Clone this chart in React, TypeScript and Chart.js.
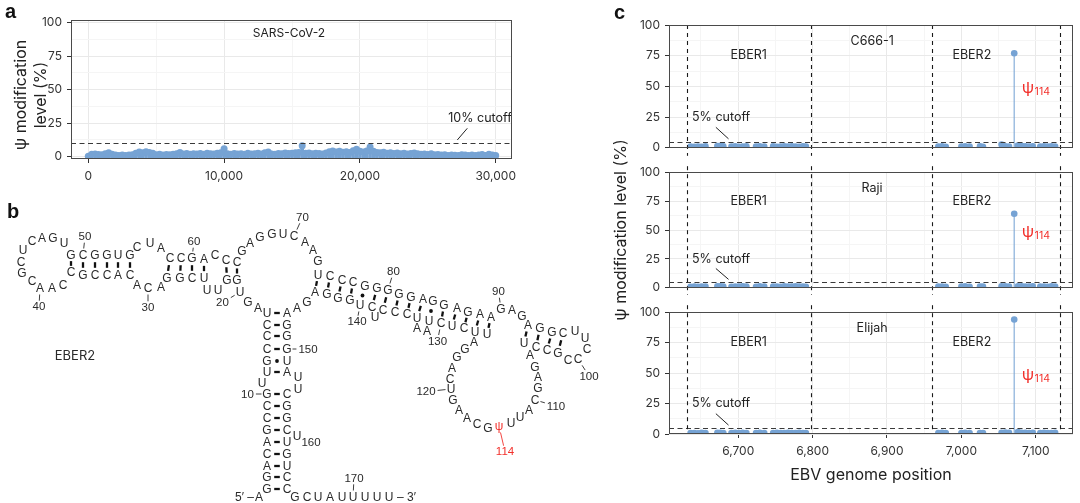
import React, { useEffect, useRef } from "react";
import { Chart, registerables } from "chart.js";
import type { ChartConfiguration, Plugin } from "chart.js";

Chart.register(...registerables);

const FONT = "Inter, 'Liberation Sans', 'DejaVu Sans', sans-serif";
const RNA_FONT = "'Liberation Sans', Arial, 'DejaVu Sans', sans-serif";
const BLUE = "#76A3D4";
const STEM = "rgba(118,163,212,0.75)";
const RED = "#F2302B";
const INK = "#333333";
const GRID = "#E9E9E9";
const GRID_MINOR = "#F5F5F5";

// ---- panel a: SARS-CoV-2 ----
const sarsPositions = [
  0, 250, 500, 750, 1000, 1250, 1500, 1750, 2000, 2250, 2500, 2750, 3000, 3250, 3500, 3750, 4000,
  4250, 4500, 4750, 5000, 5250, 5500, 5750, 6000, 6250, 6500, 6750, 7000, 7250, 7500, 7750, 8000,
  8250, 8500, 8750, 9000, 9250, 9500, 9750, 10000, 10250, 10500, 10750, 11000, 11250, 11500, 11750,
  12000, 12250, 12500, 12750, 13000, 13250, 13500, 13750, 14000, 14250, 14500, 14750, 15000, 15250,
  15500, 15750, 16000, 16250, 16500, 16750, 17000, 17250, 17500, 17750, 18000, 18250, 18500, 18750,
  19000, 19250, 19500, 19750, 20000, 20250, 20500, 20750, 21000, 21250, 21500, 21750, 22000, 22250,
  22500, 22750, 23000, 23250, 23500, 23750, 24000, 24250, 24500, 24750, 25000, 25250, 25500, 25750,
  26000, 26250, 26500, 26750, 27000, 27250, 27500, 27750, 28000, 28250, 28500, 28750, 29000, 29250,
  29500, 29750, 30000,
];
const sarsLevels = [
  0.4, 1.8, 2.0, 1.6, 1.5, 2.2, 3.0, 1.8, 1.2, 1.0, 1.3, 1.0, 1.2, 1.5, 2.5, 3.5, 3.0,
  3.8, 3.2, 2.5, 1.5, 1.8, 1.2, 1.6, 1.4, 1.8, 2.2, 3.2, 2.0, 2.4, 1.8, 2.2, 2.0,
  2.4, 1.8, 2.5, 2.2, 2.0, 2.6, 3.0, 6.0, 2.2, 1.8, 2.4, 2.0, 2.2, 1.8, 2.5,
  2.0, 2.2, 2.6, 2.0, 3.0, 3.6, 2.0, 1.8, 2.4, 2.2, 2.8, 2.4, 2.6, 3.0,
  3.2, 8.2, 2.6, 2.8, 2.2, 2.6, 2.4, 2.0, 2.8, 3.8, 4.2, 3.5, 4.0, 3.4,
  3.8, 3.2, 4.5, 5.6, 4.0, 3.5, 4.2, 7.2, 4.0, 3.2, 3.0, 3.4, 2.6, 3.0,
  2.4, 2.8, 2.2, 2.6, 2.0, 2.4, 2.8, 2.2, 1.8, 2.0, 1.6, 2.2, 1.4, 1.6,
  1.2, 1.5, 1.0, 1.3, 1.1, 1.0, 1.4, 1.2, 0.9, 1.2, 1.0, 1.3, 1.6, 1.0,
  1.8, 1.2, 1.0,
];
const sarsXTicks = [0, 5000, 10000, 15000, 20000, 25000, 30000];
const sarsXLabels = [0, 10000, 20000, 30000];
const sarsCutoff = 10;

// shared level axis
const levelTicks = [0, 12.5, 25, 37.5, 50, 62.5, 75, 87.5, 100];
const levelLabels = [0, 25, 50, 75, 100];

// ---- panel c: EBV EBERs ----
const cellLines = ["C666-1", "Raji", "Elijah"];
const eberXTicks = [6650, 6700, 6750, 6800, 6850, 6900, 6950, 7000, 7050, 7100];
const eberXLabels = [6700, 6800, 6900, 7000, 7100];
const eberBounds = [6631, 6798, 6961, 7132];
const eberCutoff = 5;
const eberPositions = [
  6636, 6641, 6646, 6651, 6656, 6672, 6676, 6680, 6691, 6696, 6701, 6706, 6711, 6724, 6729, 6735,
  6747, 6752, 6757, 6762, 6767, 6772, 6777, 6782, 6787, 6791,
  6969, 6974, 6979, 7000, 7005, 7011, 7025, 7029, 7054, 7059, 7064, 7071, 7076, 7081, 7086, 7091,
  7096, 7106, 7111, 7116, 7121, 7126,
];
const c666Levels = [
  1.0, 0.8, 1.1, 0.9, 1.2, 1.4, 1.6, 1.2, 1.0, 1.2, 0.9, 1.1, 1.3, 1.0, 1.3, 1.1,
  1.2, 0.9, 1.1, 1.3, 1.0, 1.2, 1.1, 0.9, 1.3, 1.0,
  1.0, 1.2, 0.8, 1.1, 1.3, 1.0, 1.2, 0.9, 2.6, 1.2, 1.0, 77, 1.8, 1.5, 1.2, 1.0,
  1.3, 1.1, 1.2, 1.0, 1.3, 1.1,
];
const rajiLevels = [
  0.9, 1.0, 0.8, 1.1, 1.0, 1.2, 1.3, 1.0, 0.9, 1.1, 1.0, 1.2, 1.0, 0.9, 1.2, 1.0,
  1.1, 1.0, 0.9, 1.2, 1.1, 1.0, 1.2, 1.0, 1.1, 0.9,
  1.0, 1.1, 0.9, 1.0, 1.2, 0.9, 1.1, 1.0, 1.4, 1.2, 1.0, 64, 1.3, 1.2, 1.0, 1.1,
  1.2, 1.0, 1.1, 0.9, 1.2, 1.0,
];
const elijahLevels = [
  0.7, 0.8, 0.6, 0.9, 0.7, 0.9, 1.0, 0.8, 0.7, 0.9, 0.8, 0.9, 0.7, 0.8, 0.9, 0.7,
  0.8, 0.9, 0.7, 0.8, 0.9, 0.7, 0.8, 0.9, 0.8, 0.7,
  0.8, 0.9, 0.7, 0.8, 0.9, 0.7, 0.8, 0.7, 1.0, 1.2, 0.9, 94, 1.6, 1.0, 0.9, 0.8,
  0.9, 0.8, 0.9, 0.7, 0.8, 0.9,
];
const cellLevels = [c666Levels, rajiLevels, elijahLevels];

// ---- panel b: EBER2 secondary structure (layout coordinates in figure pixels) ----
const rnaSeq = Array.from(
  "AGGACAGCCG" + "UUGCCCUAGU" + "GGUUUCGGAC" + "ACACCGCCAA" + "CGCUCAGUGC" +
  "GGUGCUACCG" + "ACCCGAGGUC" + "AAGUCCCGGG" + "GGAGGAGAAG" + "AGAGGCUUCC" +
  "CGCCUAGAGC" + "AUUψGCAAGU" + "CAGGAUUCUC" + "UAAUCCCUCU" + "GGGAGAAGGG" +
  "UAUUCGGCUU" + "GUCCGCUAUU" + "UUU"
);
const rnaX = [
  259, 267, 267, 267, 267, 267, 267, 267, 267, 267,
  262, 267, 267, 267, 267, 267, 267, 258, 248, 240,
  237, 227, 218, 207, 204, 192, 180, 167, 161, 148,
  137, 130, 118, 107, 95, 83, 71, 63, 52, 40,
  32, 22, 21, 23, 32, 42, 53, 64, 71, 83,
  95, 107, 118, 130, 137, 150, 161, 170, 181, 192,
  204, 215, 226, 237, 242, 250, 260, 272, 283, 294,
  305, 313, 318, 318, 330, 342, 353, 365, 377, 388,
  399, 411, 423, 433, 444, 457, 468, 480, 491, 501,
  512, 522, 528, 540, 552, 563, 575, 585, 587, 578,
  568, 558, 547, 536, 524, 530, 535, 538, 538, 535,
  529, 520, 511, 499, 488, 477, 467, 459, 453, 451,
  450, 452, 457, 465, 474, 487, 475, 464, 452, 441,
  429, 427, 417, 417, 407, 395, 383, 375, 372, 360,
  350, 338, 327, 315, 307, 297, 287, 287, 287, 287,
  287, 287, 298, 298, 287, 287, 287, 287, 287, 297,
  287, 287, 287, 287, 295, 307, 318, 330, 342, 353,
  365, 377, 389,
];
const rnaY = [
  497, 489, 477, 466, 454, 442, 430, 418, 406, 394,
  383, 372, 361, 349, 336, 325, 313, 308, 302, 292,
  280, 280, 290, 290, 278, 278, 278, 278, 287, 288,
  285, 275, 275, 275, 275, 275, 272, 285, 288, 288,
  281, 273, 262, 250, 241, 238, 238, 243, 255, 255,
  255, 255, 255, 255, 247, 243, 248, 258, 258, 258,
  259, 255, 260, 262, 251, 243, 237, 234, 234, 236,
  242, 250, 261, 275, 276, 280, 282, 286, 288, 290,
  294, 297, 299, 301, 305, 308, 312, 314, 317, 309,
  310, 316, 325, 328, 332, 333, 331, 338, 349, 359,
  360, 353, 350, 347, 343, 355, 367, 377, 388, 400,
  410, 417, 423, 426, 428, 424, 418, 410, 400, 389,
  379, 368, 357, 349, 342, 334, 332, 328, 326, 323,
  321, 331, 328, 318, 314, 312, 310, 317, 307, 305,
  300, 298, 294, 292, 302, 308, 313, 325, 336, 349,
  361, 372, 377, 389, 394, 406, 418, 430, 442, 436,
  454, 466, 477, 489, 497, 497, 497, 497, 497, 497,
  497, 497, 497,
];
const pairFrom = [2, 3, 4, 5, 6, 7, 8, 9, 10, 12, 13, 14, 15, 16, 17,
  21, 22, 25, 26, 27, 28, 32, 33, 34, 35, 36, 37,
  74, 75, 76, 77, 78, 79, 80, 81, 82, 83, 84, 85, 86, 87, 88, 89,
  93, 94, 95, 96];
const pairTo = [164, 163, 162, 161, 159, 158, 157, 156, 155, 152, 151, 150, 149, 148, 147,
  64, 63, 61, 60, 59, 58, 54, 53, 52, 51, 50, 49,
  144, 143, 142, 141, 140, 139, 137, 136, 135, 134, 131, 130, 129, 128, 127, 126,
  105, 104, 103, 102];
const wobbleFrom = [13, 78, 84];
const labelNums = [10, 20, 30, 40, 50, 60, 70, 80, 90, 100, 110, 114, 120, 130, 140, 150, 160, 170];
const labelX = [247.5, 222.5, 148, 39, 85, 194, 302.5, 393.5, 498.5, 589, 556, 505, 426, 437.5, 357, 308, 311, 354];
const labelY = [394, 302.7, 307.3, 306.7, 236.7, 241.7, 217.3, 271.7, 291.7, 376, 406, 451.7, 391.7, 341, 321.7, 349, 442, 478.3];

// ---------- plugins ----------
type NoteText = { x: number; y: number; text: string; size?: number; color?: string; align?: CanvasTextAlign; sub?: string };
type Notes = {
  texts: NoteText[];
  hlines?: number[];
  vlines?: number[];
  segs?: number[][];
  vTop?: number;
  vBottom?: number;
};

const notesPlugin = (notes: Notes): Plugin => ({
  id: "notes",
  afterDatasetsDraw(chart) {
    const { ctx, chartArea: a, scales } = chart;
    const xs = scales.x;
    const ys = scales.y;
    ctx.save();
    ctx.setLineDash([5, 3.5]);
    ctx.strokeStyle = "#3a3a3a";
    ctx.lineWidth = 1;
    (notes.hlines || []).forEach((v) => {
      const y = Math.round(ys.getPixelForValue(v)) + 0.5;
      ctx.beginPath();
      ctx.moveTo(a.left, y);
      ctx.lineTo(a.right, y);
      ctx.stroke();
    });
    ctx.setLineDash([4, 4]);
    ctx.strokeStyle = "#1a1a1a";
    ctx.lineWidth = 1.1;
    (notes.vlines || []).forEach((v) => {
      const x = Math.round(xs.getPixelForValue(v)) + 0.5;
      ctx.beginPath();
      ctx.moveTo(x, a.top - (notes.vTop || 0));
      ctx.lineTo(x, a.bottom + (notes.vBottom || 0));
      ctx.stroke();
    });
    ctx.setLineDash([]);
    ctx.strokeStyle = "#222";
    ctx.lineWidth = 1;
    (notes.segs || []).forEach(([x1, y1, x2, y2]) => {
      ctx.beginPath();
      ctx.moveTo(xs.getPixelForValue(x1), ys.getPixelForValue(y1));
      ctx.lineTo(xs.getPixelForValue(x2), ys.getPixelForValue(y2));
      ctx.stroke();
    });
    ctx.textBaseline = "middle";
    notes.texts.forEach((t) => {
      const x = xs.getPixelForValue(t.x);
      const y = ys.getPixelForValue(t.y);
      ctx.fillStyle = t.color || "#222";
      ctx.textAlign = t.align || "center";
      ctx.font = `${t.size || 12.5}px ${FONT}`;
      ctx.fillText(t.text, x, y);
      if (t.sub) {
        const w = ctx.measureText(t.text).width;
        ctx.textAlign = "left";
        ctx.font = `10.5px ${FONT}`;
        ctx.fillText(t.sub, x + w + 0.5, y + 4);
      }
    });
    ctx.restore();
  },
});

const borderPlugin: Plugin = {
  id: "panelBorder",
  afterDraw(chart) {
    const { ctx, chartArea: a } = chart;
    ctx.save();
    ctx.strokeStyle = "#4a4a4a";
    ctx.lineWidth = 1;
    ctx.strokeRect(Math.round(a.left) + 0.5, Math.round(a.top) + 0.5, Math.round(a.right - a.left) - 1, Math.round(a.bottom - a.top) - 1);
    ctx.restore();
  },
};

// vertical segments from zero up to each point (lollipops)
const stemsPlugin = (color: string, width: number): Plugin => ({
  id: "stems",
  beforeDatasetsDraw(chart) {
    const { ctx, chartArea: a } = chart;
    const y0 = chart.scales.y.getPixelForValue(0);
    ctx.save();
    ctx.beginPath();
    ctx.rect(a.left, a.top, a.right - a.left, a.bottom - a.top);
    ctx.clip();
    ctx.strokeStyle = color;
    ctx.lineWidth = width;
    chart.getDatasetMeta(0).data.forEach((p: any) => {
      ctx.beginPath();
      ctx.moveTo(p.x, Math.max(y0, a.bottom));
      ctx.lineTo(p.x, p.y);
      ctx.stroke();
    });
    ctx.restore();
  },
});

const rnaPlugin: Plugin = {
  id: "rna",
  afterDatasetsDraw(chart) {
    const { ctx, scales } = chart;
    const pts = chart.getDatasetMeta(0).data as any[];
    const sx = (v: number) => scales.x.getPixelForValue(v);
    const sy = (v: number) => scales.y.getPixelForValue(v);
    ctx.save();
    ctx.strokeStyle = "#111";
    ctx.fillStyle = "#111";
    ctx.lineWidth = 2.3;
    pairFrom.forEach((i, k) => {
      const p = pts[i - 1];
      const q = pts[pairTo[k] - 1];
      const dx = q.x - p.x;
      const dy = q.y - p.y;
      if (wobbleFrom.includes(i)) {
        ctx.beginPath();
        ctx.arc(p.x + dx / 2, p.y + dy / 2, 1.9, 0, Math.PI * 2);
        ctx.fill();
        return;
      }
      ctx.beginPath();
      ctx.moveTo(p.x + dx * 0.36, p.y + dy * 0.36);
      ctx.lineTo(p.x + dx * 0.64, p.y + dy * 0.64);
      ctx.stroke();
    });

    ctx.textAlign = "center";
    ctx.textBaseline = "middle";
    ctx.font = `12px ${RNA_FONT}`;
    pts.forEach((p, i) => {
      ctx.fillStyle = rnaSeq[i] === "ψ" ? RED : "#2a2a2a";
      ctx.fillText(rnaSeq[i], p.x, p.y + 0.5);
    });

    ctx.font = `11.5px ${RNA_FONT}`;
    ctx.lineWidth = 0.9;
    labelNums.forEach((n, k) => {
      const lx = sx(labelX[k]);
      const ly = sy(labelY[k]);
      const p = pts[n - 1];
      const color = n === 114 ? RED : "#2a2a2a";
      ctx.fillStyle = color;
      ctx.strokeStyle = color;
      const txt = String(n);
      ctx.fillText(txt, lx, ly + 0.5);
      const dx = p.x - lx;
      const dy = p.y - ly;
      const d = Math.hypot(dx, dy);
      const ux = Math.abs(dx / d) + 1e-6;
      const uy = Math.abs(dy / d) + 1e-6;
      const t0 = Math.min((ctx.measureText(txt).width / 2 + 1.5) / ux, 5.5 / uy) + 0.5;
      const t1 = d - (Math.min(4.5 / ux, 5.5 / uy) + 1);
      if (t1 - t0 > 1.5) {
        ctx.beginPath();
        ctx.moveTo(lx + (dx / d) * t0, ly + (dy / d) * t0);
        ctx.lineTo(lx + (dx / d) * t1, ly + (dy / d) * t1);
        ctx.stroke();
      }
    });

    ctx.fillStyle = "#2a2a2a";
    ctx.font = `12px ${RNA_FONT}`;
    ctx.textAlign = "right";
    ctx.fillText("5′ –", sx(254), sy(497.5));
    ctx.textAlign = "left";
    ctx.fillText("– 3′", sx(397), sy(497.5));
    ctx.font = `13px ${FONT}`;
    ctx.textAlign = "center";
    ctx.fillText("EBER2", sx(75), sy(356));
    ctx.restore();
  },
};

// ---------- axes ----------
const tickFont = { family: FONT, size: 12 };

function levelAxis(width: number, min: number, max: number) {
  return {
    type: "linear",
    min,
    max,
    afterFit: (s: any) => {
      s.width = width;
    },
    afterBuildTicks: (s: any) => {
      s.ticks = levelTicks.map((value) => ({ value }));
    },
    ticks: {
      autoSkip: false,
      padding: 5,
      color: INK,
      font: tickFont,
      callback: (v: any) => (levelLabels.includes(v) ? String(v) : ""),
    },
    grid: {
      color: (c: any) => (levelLabels.includes(c.tick?.value) ? GRID : GRID_MINOR),
      tickColor: (c: any) => (levelLabels.includes(c.tick?.value) ? INK : "rgba(0,0,0,0)"),
      tickLength: 4,
      lineWidth: 1,
    },
    border: { display: false },
  };
}

function positionAxis(min: number, max: number, ticks: number[], labels: number[], height: number, showLabels: boolean) {
  return {
    type: "linear",
    min,
    max,
    afterFit: (s: any) => {
      s.height = height;
    },
    afterBuildTicks: (s: any) => {
      s.ticks = ticks.map((value) => ({ value }));
    },
    ticks: {
      display: showLabels,
      autoSkip: false,
      maxRotation: 0,
      padding: 6,
      color: INK,
      font: tickFont,
      callback: (v: any) => (labels.includes(v) ? Number(v).toLocaleString("en-US") : ""),
    },
    grid: {
      color: (c: any) => (labels.includes(c.tick?.value) ? GRID : GRID_MINOR),
      tickColor: (c: any) => (labels.includes(c.tick?.value) ? INK : "rgba(0,0,0,0)"),
      drawTicks: showLabels,
      tickLength: 4,
      lineWidth: 1,
    },
    border: { display: false },
  };
}

function lollipopData(xs: number[], ys: number[], radius: number) {
  return {
    datasets: [
      {
        data: xs.map((x, i) => ({ x, y: ys[i] })),
        pointRadius: radius,
        pointHoverRadius: radius,
        pointBackgroundColor: BLUE,
        pointBorderWidth: 0,
        showLine: false,
        clip: 0,
      },
    ],
  };
}

const baseOptions = {
  animation: false,
  responsive: true,
  maintainAspectRatio: false,
  events: [],
  plugins: { legend: { display: false }, tooltip: { enabled: false } },
};

// ---------- chart configs ----------
const sarsConfig = (): ChartConfiguration =>
  ({
    type: "scatter",
    data: lollipopData(sarsPositions, sarsLevels, 3.5),
    options: {
      ...baseOptions,
      layout: { padding: { top: 20, right: 18, left: 0, bottom: 0 } },
      scales: {
        x: positionAxis(-1274, 31200, sarsXTicks, sarsXLabels, 31, true),
        y: levelAxis(71, -1.7, 102),
      },
    },
    plugins: [
      stemsPlugin(BLUE, 3.6),
      notesPlugin({
        texts: [
          { x: 14779, y: 92.3, text: "SARS-CoV-2", size: 12 },
          { x: 28844, y: 28.7, text: "10% cutoff" },
        ],
        hlines: [sarsCutoff],
        segs: [[27173, 12.5, 27909, 21.2]],
      }),
      borderPlugin,
    ],
  }) as any;

const rnaConfig = (): ChartConfiguration =>
  ({
    type: "scatter",
    data: {
      datasets: [{ data: rnaX.map((x, i) => ({ x, y: rnaY[i] })), pointRadius: 0, showLine: false }],
    },
    options: {
      ...baseOptions,
      layout: { padding: 0 },
      scales: {
        x: { type: "linear", min: 0, max: 610, display: false },
        y: { type: "linear", min: 190, max: 503, reverse: true, display: false },
      },
    },
    plugins: [rnaPlugin],
  }) as any;

const eberLayout = [
  { padTop: 25, xHeight: 8, vTop: 0, vBottom: 8, showX: false },
  { padTop: 6, xHeight: 7, vTop: 6, vBottom: 7, showX: false },
  { padTop: 7, xHeight: 69, vTop: 7, vBottom: 0, showX: true },
];

const makeEberConfig = (k: number) => (): ChartConfiguration => {
  const lay = eberLayout[k];
  return {
    type: "scatter",
    data: lollipopData(eberPositions, cellLevels[k], 3.3),
    options: {
      ...baseOptions,
      layout: { padding: { top: lay.padTop, right: 7, left: 0, bottom: 0 } },
      scales: {
        x: positionAxis(6607, 7150, eberXTicks, eberXLabels, lay.xHeight, lay.showX),
        y: levelAxis(59, 0, 100),
      },
    },
    plugins: [
      stemsPlugin(STEM, 1.4),
      notesPlugin({
        texts: [
          { x: 6880, y: 86.5, text: cellLines[k] },
          { x: 6714, y: 75, text: "EBER1" },
          { x: 7014, y: 75, text: "EBER2" },
          { x: 6677, y: 25, text: "5% cutoff" },
          { x: 7081, y: 48.5, text: "ψ", size: 16, color: RED, align: "left", sub: "114" },
        ],
        hlines: [eberCutoff],
        vlines: eberBounds,
        segs: [[6670, 16.7, 6687, 7.3]],
        vTop: lay.vTop,
        vBottom: lay.vBottom,
      }),
      borderPlugin,
    ],
  } as any;
};

const eberConfigs = [makeEberConfig(0), makeEberConfig(1), makeEberConfig(2)];

// ---------- components ----------
const ChartBox: React.FC<{ box: number[]; config: () => ChartConfiguration }> = ({ box, config }) => {
  const ref = useRef<HTMLCanvasElement | null>(null);
  useEffect(() => {
    if (!ref.current) return;
    const chart = new Chart(ref.current, config());
    return () => {
      chart.destroy();
    };
  }, [config]);
  const [left, top, width, height] = box;
  return (
    <div style={{ position: "absolute", left, top, width, height }}>
      <canvas ref={ref} />
    </div>
  );
};

const panelLetter: React.CSSProperties = {
  position: "absolute",
  fontFamily: "'Liberation Sans', Arial, sans-serif",
  fontWeight: 700,
  fontSize: 20,
  lineHeight: "20px",
  color: "#111",
};

const App: React.FC = () => (
  <div
    style={{
      position: "absolute",
      left: 0,
      top: 0,
      width: 1080,
      height: 503,
      background: "#fff",
      overflow: "hidden",
      fontFamily: FONT,
      color: "#222",
    }}
  >
    <ChartBox box={[0, 0, 530, 190]} config={sarsConfig} />
    <ChartBox box={[0, 190, 610, 313]} config={rnaConfig} />
    <ChartBox box={[610, 0, 470, 160]} config={eberConfigs[0]} />
    <ChartBox box={[610, 160, 470, 140]} config={eberConfigs[1]} />
    <ChartBox box={[610, 300, 470, 203]} config={eberConfigs[2]} />

    <div style={{ ...panelLetter, left: 5, top: 1 }}>a</div>
    <div style={{ ...panelLetter, left: 7, top: 201 }}>b</div>
    <div style={{ ...panelLetter, left: 614, top: 2 }}>c</div>

    <div
      style={{
        position: "absolute",
        left: 30 - 80,
        top: 95 - 20,
        width: 160,
        height: 40,
        lineHeight: "20px",
        fontSize: 16,
        textAlign: "center",
        transform: "rotate(-90deg)",
      }}
    >
      ψ modification
      <br />
      level (%)
    </div>

    <div
      style={{
        position: "absolute",
        left: 620 - 120,
        top: 230 - 10,
        width: 240,
        height: 20,
        lineHeight: "20px",
        fontSize: 16,
        textAlign: "center",
        transform: "rotate(-90deg)",
      }}
    >
      ψ modification level (%)
    </div>

    <div
      style={{
        position: "absolute",
        left: 771,
        top: 464,
        width: 200,
        lineHeight: "20px",
        fontSize: 16,
        textAlign: "center",
      }}
    >
      EBV genome position
    </div>
  </div>
);

export default App;
